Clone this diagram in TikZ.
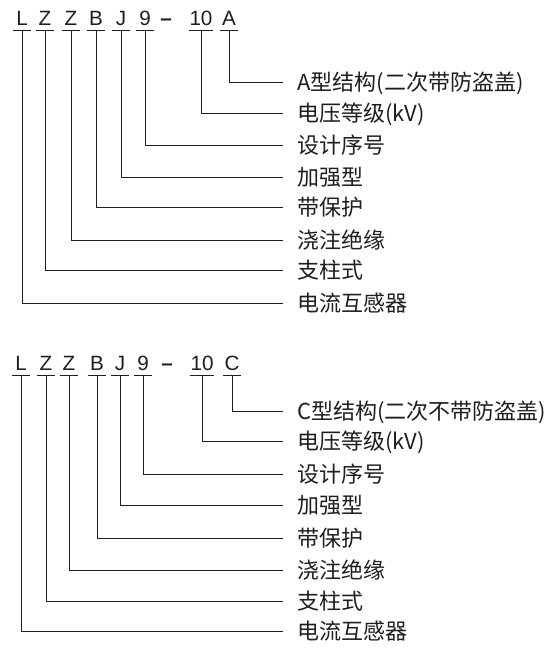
\documentclass[tikz,border=0pt]{standalone}
\usepackage{fontspec}
\setmainfont{Noto Sans CJK SC}
\newfontfamily\codefont{Liberation Sans}
\usepackage{tikz}
\usetikzlibrary{calc}
\definecolor{ink}{HTML}{1E1E1E}

\tikzset{
  code/.style={inner xsep=0pt, inner ysep=3pt, minimum width=13.5pt,
    text height=11.5pt, text depth=0pt, anchor=south, text=ink,
    font=\codefont\fontsize{15.5}{15.5}\selectfont},
  meaning/.style={anchor=west, inner sep=0pt, text height=14.5pt, text depth=2pt,
    text=ink, font=\fontsize{16.5}{16.5}\selectfont},
  lead/.style={draw=ink, line width=0.6pt, shorten >=10.5pt}
}

\begin{document}
\begin{tikzpicture}[x=0.75pt, y=-0.75pt]
\useasboundingbox (0,0) rectangle (559,652);

% first code: LZZBJ9-10A

\node[code] (L1) at (22, 30) {L};
\node[code] (Z1) at (45, 30) {Z};
\node[code] (Z2) at (71, 30) {Z};
\node[code] (B1) at (96, 30) {B};
\node[code] (J1) at (121, 30) {J};
\node[code] (N1) at (145, 30) {9};
\node[code] (H1) at (166, 30) {\bfseries –};
\node[code] (T1) at (201, 30) {10};
\node[code] (A1) at (229, 30) {A};

\node[meaning] (a1) at (297, 82.5) {A型结构(二次带防盗盖)};
\node[meaning] (a2) at (297, 113.5) {电压等级(kV)};
\node[meaning] (a3) at (297, 145) {设计序号};
\node[meaning] (a4) at (297, 177.5) {加强型};
\node[meaning] (a5) at (297, 207) {带保护};
\node[meaning] (a6) at (297, 240) {浇注绝缘};
\node[meaning] (a7) at (297, 270.5) {支柱式};
\node[meaning] (a8) at (297, 303) {电流互感器};

% underlines
\draw[draw=ink, line width=0.6pt] (L1.south west) -- (L1.south east);
\draw[draw=ink, line width=0.6pt] (Z1.south west) -- (Z1.south east);
\draw[draw=ink, line width=0.6pt] (Z2.south west) -- (Z2.south east);
\draw[draw=ink, line width=0.6pt] (B1.south west) -- (B1.south east);
\draw[draw=ink, line width=0.6pt] (J1.south west) -- (J1.south east);
\draw[draw=ink, line width=0.6pt] (N1.south west) -- (N1.south east);
\draw[draw=ink, line width=0.6pt] (T1.south west) -- (T1.south east);
\draw[draw=ink, line width=0.6pt] (A1.south west) -- (A1.south east);

% leads
\draw[lead] (A1.south) |- (a1.west);
\draw[lead] (T1.south) |- (a2.west);
\draw[lead] (N1.south) |- (a3.west);
\draw[lead] (J1.south) |- (a4.west);
\draw[lead] (B1.south) |- (a5.west);
\draw[lead] (Z2.south) |- (a6.west);
\draw[lead] (Z1.south) |- (a7.west);
\draw[lead] (L1.south) |- (a8.west);

% second code: LZZBJ9-10C

\node[code] (L2) at (21, 375) {L};
\node[code] (Z3) at (46, 375) {Z};
\node[code] (Z4) at (69, 375) {Z};
\node[code] (B2) at (97, 375) {B};
\node[code] (J2) at (120, 375) {J};
\node[code] (N2) at (143, 375) {9};
\node[code] (H2) at (167, 375) {\bfseries –};
\node[code] (T2) at (202, 375) {10};
\node[code] (C2) at (232, 375) {C};

\node[meaning] (c1) at (297, 411.5) {C型结构(二次不带防盗盖)};
\node[meaning] (c2) at (297, 441) {电压等级(kV)};
\node[meaning] (c3) at (297, 474) {设计序号};
\node[meaning] (c4) at (297, 505.5) {加强型};
\node[meaning] (c5) at (297, 538) {带保护};
\node[meaning] (c6) at (297, 570.5) {浇注绝缘};
\node[meaning] (c7) at (297, 601) {支柱式};
\node[meaning] (c8) at (297, 631.5) {电流互感器};

% underlines
\draw[draw=ink, line width=0.6pt] (L2.south west) -- (L2.south east);
\draw[draw=ink, line width=0.6pt] (Z3.south west) -- (Z3.south east);
\draw[draw=ink, line width=0.6pt] (Z4.south west) -- (Z4.south east);
\draw[draw=ink, line width=0.6pt] (B2.south west) -- (B2.south east);
\draw[draw=ink, line width=0.6pt] (J2.south west) -- (J2.south east);
\draw[draw=ink, line width=0.6pt] (N2.south west) -- (N2.south east);
\draw[draw=ink, line width=0.6pt] (T2.south west) -- (T2.south east);
\draw[draw=ink, line width=0.6pt] (C2.south west) -- (C2.south east);

% leads
\draw[lead] (C2.south) |- (c1.west);
\draw[lead] (T2.south) |- (c2.west);
\draw[lead] (N2.south) |- (c3.west);
\draw[lead] (J2.south) |- (c4.west);
\draw[lead] (B2.south) |- (c5.west);
\draw[lead] (Z4.south) |- (c6.west);
\draw[lead] (Z3.south) |- (c7.west);
\draw[lead] (L2.south) |- (c8.west);

\end{tikzpicture}
\end{document}
